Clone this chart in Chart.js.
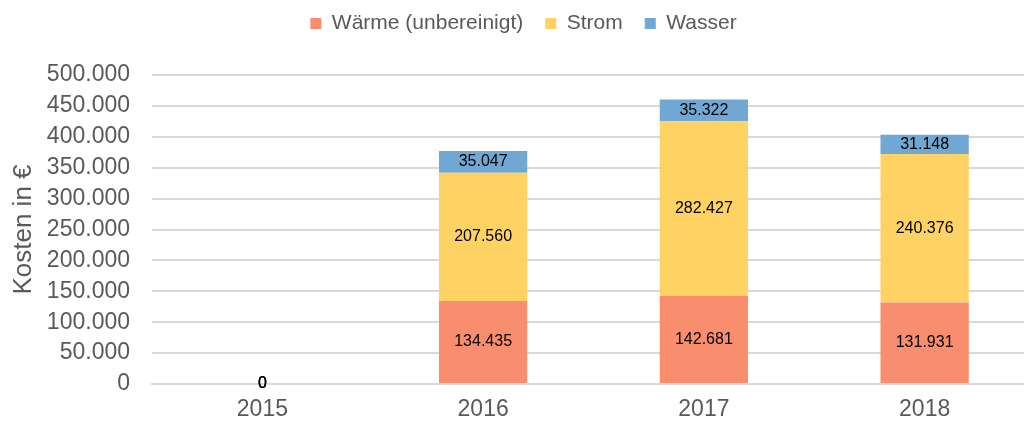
<!DOCTYPE html>
<html>
<head>
<meta charset="utf-8">
<script src="https://cdn.jsdelivr.net/npm/chart.js@4"></script>
<style>
html,body{margin:0;padding:0;background:#fff;overflow:hidden;}
#wrap{width:1046px;height:423px;}
</style>
</head>
<body>
<div id="wrap"><canvas id="c"></canvas></div>
<script>
const categories = ['2015', '2016', '2017', '2018'];
const waerme = [0, 134435, 142681, 131931];
const strom = [0, 207560, 282427, 240376];
const wasser = [0, 35047, 35322, 31148];
const seriesNames = ['Wärme (unbereinigt)', 'Strom', 'Wasser'];
const yTicks = [0, 50000, 100000, 150000, 200000, 250000, 300000, 350000, 400000, 450000, 500000];

function fmt(v) {
  return String(Math.round(v)).replace(/\B(?=(\d{3})+(?!\d))/g, '.');
}

const FONT = "'Liberation Sans', Arial, sans-serif";
const PAD_TOP = -9;
const CHART_TOP = 75;

const labelPlugin = {
  id: 'segLabels',
  beforeLayout(chart) {
    const lg = chart.legend;
    if (lg && !lg._patched) {
      const orig = lg.fit;
      lg.fit = function () {
        orig.call(this);
        this.height = CHART_TOP - PAD_TOP;
      };
      lg._patched = true;
    }
  },
  afterDatasetsDraw(chart) {
    const ctx = chart.ctx;
    ctx.save();
    ctx.font = '16px ' + FONT;
    ctx.fillStyle = '#000';
    ctx.textAlign = 'center';
    ctx.textBaseline = 'middle';
    chart.data.datasets.forEach((ds, di) => {
      const meta = chart.getDatasetMeta(di);
      meta.data.forEach((el, i) => {
        const v = ds.data[i];
        const p = el.getProps(['x', 'y', 'base'], true);
        const y = (p.y + p.base) / 2;
        ctx.fillText(fmt(v), p.x, y);
      });
    });
    ctx.restore();
  }
};

new Chart(document.getElementById('c'), {
  type: 'bar',
  data: {
    labels: categories,
    datasets: [
      { label: seriesNames[0], data: waerme, backgroundColor: '#F98E6F' },
      { label: seriesNames[1], data: strom, backgroundColor: '#FFD264' },
      { label: seriesNames[2], data: wasser, backgroundColor: '#70A7D3' }
    ]
  },
  options: {
    responsive: true,
    maintainAspectRatio: false,
    animation: false,
    devicePixelRatio: 1,
    layout: { padding: { left: 12, right: 11, top: PAD_TOP, bottom: 0 } },
    datasets: { bar: { barPercentage: 0.8, categoryPercentage: 0.5 } },
    plugins: {
      legend: {
        position: 'top',
        labels: {
          boxWidth: 11, boxHeight: 11, padding: 22,
          color: '#595959',
          font: { family: FONT, size: 21 }
        }
      },
      tooltip: { enabled: false }
    },
    scales: {
      x: {
        stacked: true,
        grid: { display: false },
        border: { color: '#d9d9d9', width: 2 },
        ticks: { color: '#595959', font: { family: FONT, size: 23 }, padding: 4 },
        afterFit(s) { s.height = 39; }
      },
      y: {
        stacked: true,
        min: 0, max: 500000,
        afterBuildTicks(s) { s.ticks = yTicks.map(v => ({ value: v })); },
        grid: { color: '#d9d9d9', lineWidth: 2, drawTicks: false },
        border: { display: false },
        ticks: {
          color: '#595959', font: { family: FONT, size: 23 }, padding: 22,
          callback: v => fmt(v)
        },
        title: {
          display: true, text: 'Kosten in €', color: '#595959',
          font: { family: FONT, size: 26 }, padding: { top: -4, bottom: 0 }
        },
        afterFit(s) { s.width = 140; }
      }
    }
  },
  plugins: [labelPlugin]
});
</script>
</body>
</html>
